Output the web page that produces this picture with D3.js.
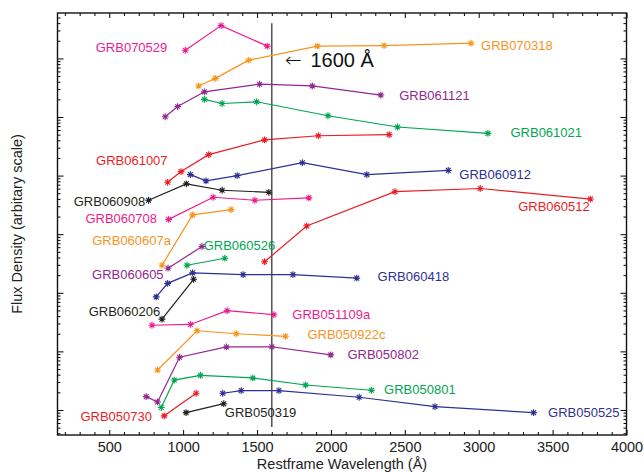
<!DOCTYPE html>
<html>
<head>
<meta charset="utf-8">
<script src="https://cdn.jsdelivr.net/npm/d3@7"></script>
<style>
	body { margin: 0; background: #fff; }
	svg { display: block; font-family: "Liberation Sans", Arial, Helvetica, sans-serif; }
</style>
</head>
<body>
<div class="chart"></div>
<script>
// wavelength (A) and flux (arbitrary units) per burst
const grbNames = ['GRB070529', 'GRB070318', 'GRB061121', 'GRB061021', 'GRB061007', 'GRB060912',
	'GRB060908', 'GRB060708', 'GRB060607a', 'GRB060526', 'GRB060605', 'GRB060512', 'GRB060418',
	'GRB060206', 'GRB051109a', 'GRB050922c', 'GRB050802', 'GRB050801', 'GRB050525', 'GRB050730',
	'GRB050319'];

const grbColors = ['#ec1c8f', '#f7941d', '#92278f', '#00a651', '#ed1c24', '#2e3192',
	'#231f20', '#ec1c8f', '#f7941d', '#00a651', '#92278f', '#ed1c24', '#2e3192',
	'#231f20', '#ec1c8f', '#f7941d', '#92278f', '#00a651', '#2e3192', '#ed1c24',
	'#231f20'];

const grbWave = [
	[1015, 1257, 1569],
	[1105, 1218, 1444, 1908, 2360, 2948],
	[879, 963, 1144, 1517, 1874, 2338],
	[1144, 1264, 1497, 1980, 2451, 3062],
	[895, 986, 1173, 1551, 1915, 2394],
	[1049, 1155, 1366, 1807, 2243, 2794],
	[766, 1022, 1264, 1580],
	[902, 1203, 1485, 1851],
	[857, 1064, 1325],
	[1026, 1282],
	[898, 1128],
	[1551, 1836, 2433, 3010, 3756],
	[818, 895, 1064, 1406, 1743, 2175],
	[857, 1071],
	[789, 1049, 1298, 1614],
	[827, 1094, 1359, 1693],
	[750, 827, 976, 1293, 1600, 1999],
	[852, 940, 1117, 1472, 1829, 2275],
	[1268, 1393, 1648, 2191, 2704, 3371],
	[872, 1088],
	[1020, 1275]
];

const grbFlux = [
	[1.38e6, 3.63e6, 1.62e6],
	[3.39e5, 4.57e5, 9.33e5, 1.62e6, 1.66e6, 1.82e6],
	[1.01e5, 1.51e5, 2.69e5, 3.63e5, 3.39e5, 2.37e5],
	[2.00e5, 1.70e5, 1.82e5, 1.05e5, 6.76e4, 5.25e4],
	[7.69e3, 1.17e4, 2.28e4, 4.07e4, 4.79e4, 5.01e4],
	[1.04e4, 8.13e3, 1.00e4, 1.66e4, 1.04e4, 1.23e4],
	[3.80e3, 7.24e3, 5.62e3, 5.19e3],
	[1.79e3, 4.27e3, 3.80e3, 4.17e3],
	[295, 2140, 2630],
	[295, 389],
	[263, 617],
	[339, 1380, 5310, 6030, 3980],
	[85.1, 145, 219, 204, 204, 178],
	[35.5, 170],
	[27.9, 28.8, 49.5, 42.3],
	[4.82, 22.5, 20.0, 18.1],
	[1.69, 1.37, 7.94, 11.9, 12.0, 8.71],
	[1.10, 3.24, 3.89, 3.52, 2.67, 2.17],
	[1.93, 2.14, 2.14, 1.65, 1.14, 0.90],
	[0.794, 1.93],
	[0.90, 1.28]
];

// where each name sits: [wavelength, flux, anchor]
const labelAt = [
	[893, 1.55e6, 'end'], [3016, 1.66e6, 'start'], [2462, 2.37e5, 'start'], [3215, 5.37e4, 'start'],
	[895, 1.79e4, 'end'], [2869, 1.06e4, 'start'], [744, 3.69e3, 'end'], [823, 1.84e3, 'end'],
	[918, 776, 'end'], [1139, 631, 'start'], [868, 207, 'end'], [3751, 3.02e3, 'end'],
	[2316, 188, 'start'], [845, 47.5, 'end'], [1739, 43.0, 'start'], [1841, 19.1, 'start'],
	[2112, 8.91, 'start'], [2360, 2.25, 'start'], [3469, 0.90, 'start'], [789, 0.79, 'end'],
	[1282, 0.90, 'start']
];

const xMajorTicks = [500, 1000, 1500, 2000, 2500, 3000, 3500, 4000];
const cutWave = 1600;

const width = 644, height = 472;
const margin = { left: 57.5, right: 17.5, top: 13, bottom: 37 };

const svg = d3.select('.chart').append('svg')
	.attr('width', width)
	.attr('height', height);

const x = d3.scaleLinear().domain([150, 4000]).range([margin.left, width - margin.right]);
const y = d3.scaleLog().domain([0.374, 5.96e6]).range([height - margin.bottom, margin.top]);

const x0 = margin.left, x1 = width - margin.right;
const y0 = height - margin.bottom, y1 = margin.top;

// minor ticks
const xMinor = d3.range(200, 4000, 100).filter(v => v % 500 != 0);
const yMajor = d3.range(0, 7).map(p => Math.pow(10, p));
let yMinor = [];
for (let p = -1; p <= 6; p++) {
	for (let m = 2; m <= 9; m++) {
		let v = m * Math.pow(10, p);
		if (v > y.domain()[0] && v < y.domain()[1]) yMinor.push(v);
	}
}

function tickGroup(axis, transform) {
	let g = svg.append('g').attr('transform', transform).call(axis);
	g.select('.domain').remove();
	g.selectAll('line').attr('stroke', '#000').attr('stroke-width', 1);
	return g;
}

// bottom & top
let bottom = tickGroup(d3.axisBottom(x).tickValues(xMajorTicks).tickSize(-5).tickPadding(7).tickFormat(d3.format('d')), `translate(0,${y0})`);
bottom.selectAll('text').attr('font-size', 14.5).attr('fill', '#222').attr('font-family', 'Liberation Sans, Arial, sans-serif');
tickGroup(d3.axisBottom(x).tickValues(xMinor).tickSize(-3).tickFormat(''), `translate(0,${y0})`);
tickGroup(d3.axisTop(x).tickValues(xMajorTicks).tickSize(-5).tickFormat(''), `translate(0,${y1})`);
tickGroup(d3.axisTop(x).tickValues(xMinor).tickSize(-3).tickFormat(''), `translate(0,${y1})`);

// left & right
tickGroup(d3.axisLeft(y).tickValues(yMajor).tickSize(-6).tickFormat(''), `translate(${x0},0)`);
tickGroup(d3.axisLeft(y).tickValues(yMinor).tickSize(-3).tickFormat(''), `translate(${x0},0)`);
tickGroup(d3.axisRight(y).tickValues(yMajor).tickSize(-6).tickFormat(''), `translate(${x1},0)`);
tickGroup(d3.axisRight(y).tickValues(yMinor).tickSize(-3).tickFormat(''), `translate(${x1},0)`);

svg.append('rect')
	.attr('x', x0).attr('y', y1)
	.attr('width', x1 - x0).attr('height', y0 - y1)
	.attr('fill', 'none')
	.attr('stroke', '#111')
	.attr('stroke-width', 1.4);

// 1600 A marker line
svg.append('line')
	.attr('x1', x(cutWave)).attr('x2', x(cutWave))
	.attr('y1', y(4.0e6)).attr('y2', y(0.51))
	.attr('stroke', '#444')
	.attr('stroke-width', 1.4);

let note = svg.append('text')
	.attr('x', x(1690))
	.attr('y', y(9.4e5))
	.attr('dy', '0.35em')
	.attr('font-size', 20)
	.attr('fill', '#111');
note.append('tspan')
	.attr('font-family', 'DejaVu Sans')
	.attr('font-weight', 200)
	.text('\u2190');
note.append('tspan')
	.attr('dx', 3)
	.text(' 1600 \u00c5');

// asterisk symbol
function asterisk(r) {
	let d = '';
	for (let k = 0; k < 4; k++) {
		let a = k * Math.PI / 4;
		let dx = r * Math.cos(a), dy = r * Math.sin(a);
		d += `M${-dx},${-dy}L${dx},${dy}`;
	}
	return d;
}

const line = d3.line().x(d => x(d[0])).y(d => y(d[1]));

for (let i = 0; i < grbNames.length; i++) {
	let pts = grbWave[i].map((w, k) => [w, grbFlux[i][k]]);
	let g = svg.append('g').attr('class', 'grb');

	g.append('path')
		.datum(pts)
		.attr('d', line)
		.attr('fill', 'none')
		.attr('stroke', grbColors[i])
		.attr('stroke-width', 1.2);

	g.selectAll('path.star')
		.data(pts)
		.enter().append('path')
		.attr('class', 'star')
		.attr('transform', d => `translate(${x(d[0])},${y(d[1])})`)
		.attr('d', asterisk(3.4))
		.attr('stroke', grbColors[i])
		.attr('stroke-width', 1.1);

	g.append('text')
		.attr('x', x(labelAt[i][0]))
		.attr('y', y(labelAt[i][1]))
		.attr('dy', '0.35em')
		.attr('text-anchor', labelAt[i][2])
		.attr('font-size', 13)
		.attr('fill', grbColors[i])
		.text(grbNames[i]);
}

// axis titles
svg.append('text')
	.attr('x', (x0 + x1) / 2)
	.attr('y', 469)
	.attr('text-anchor', 'middle')
	.attr('font-size', 14.5)
	.attr('fill', '#222')
	.text('Restframe Wavelength (\u00c5)');

svg.append('text')
	.attr('transform', `translate(22,${(y0 + y1) / 2}) rotate(-90)`)
	.attr('text-anchor', 'middle')
	.attr('font-size', 14.5)
	.attr('fill', '#222')
	.text('Flux Density (arbitary scale)');
</script>
</body>
</html>
